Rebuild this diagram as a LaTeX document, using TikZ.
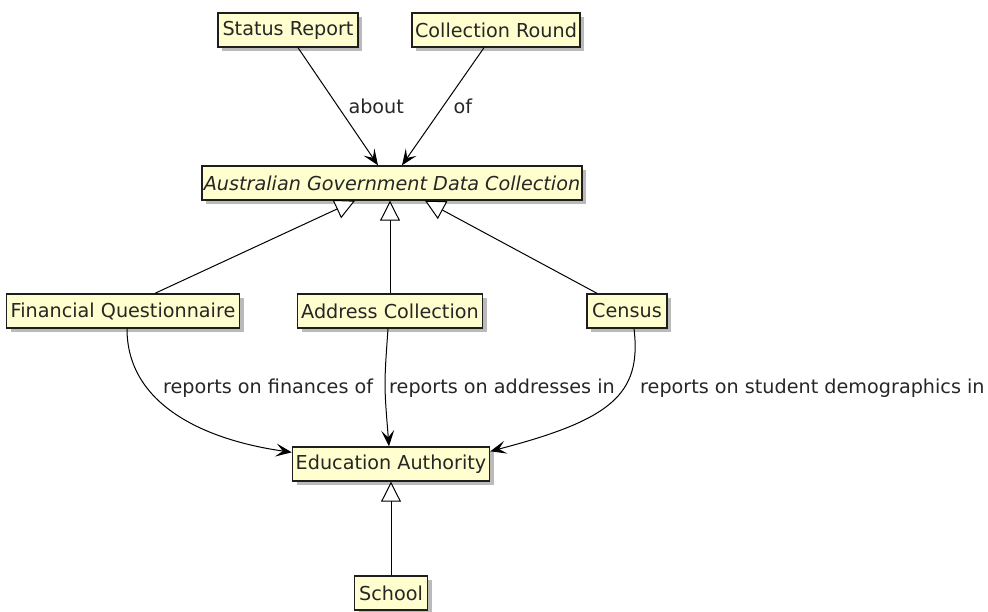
\documentclass[tikz,border=0pt]{standalone}
\usepackage{fontspec}
\setmainfont{DejaVu Sans}
\usepackage{xcolor}
\usetikzlibrary{arrows.meta,positioning,shadows}
\definecolor{clsfill}{HTML}{FEFECE}
\definecolor{clsline}{HTML}{1E1E1E}

\begin{document}
\begin{tikzpicture}[
  x=1pt, y=-1pt,
  font=\fontsize{19.2}{22}\selectfont,
  cls/.style={draw=clsline,line width=1.4pt,fill=clsfill,minimum height=34pt,inner sep=2pt,text=black!85,
    drop shadow={shadow xshift=4pt,shadow yshift=-4pt,fill=black!45,opacity=.6}},
  lbl/.style={anchor=west,inner sep=0pt,text=black!85},
  assoc/.style={line width=1pt,-{Stealth[length=16pt,width=13pt,inset=7pt]}},
  gen/.style={line width=1pt,-{Triangle[open,length=20pt,width=20pt,fill=white]}},
]
\useasboundingbox (0,0) rectangle (988,611);
\node[cls,minimum width=140pt] (status)  at (288,30)  {Status Report};
\node[cls,minimum width=168pt] (round)   at (496,30)  {Collection Round};
\node[cls,minimum width=378pt] (agdc)    at (392,183) {\itshape Australian Government Data Collection};
\node[cls,minimum width=233pt] (finq)    at (123,311) {Financial Questionnaire};
\node[cls,minimum width=185pt] (addr)    at (390,311) {Address Collection};
\node[cls,minimum width=80pt]  (census)  at (627,311) {Census};
\node[cls,minimum width=197pt] (eduauth) at (391,464) {Education Authority};
\node[cls,minimum width=73pt]  (school)  at (391,593) {School};
% associations
\draw[assoc] ([xshift=10pt]status.south) -- node[lbl,pos=.5,xshift=10pt]{about} ([xshift=-14pt]agdc.north);
\draw[assoc] ([xshift=-12pt]round.south) -- node[lbl,pos=.5,xshift=10pt]{of} ([xshift=10pt]agdc.north);
% generalisations
\draw[gen] ([xshift=32pt]finq.north) -- ([xshift=-37pt]agdc.south);
\draw[gen] (addr.north) -- (addr.north |- agdc.south);
\draw[gen] ([xshift=-30pt]census.north) -- ([xshift=33pt]agdc.south);
\draw[gen] (school) -- (eduauth);
% reporting
\draw[assoc] ([xshift=4pt]finq.south) .. controls (127,405) and (205,440) .. ([yshift=-6pt]eduauth.north west);
\draw[assoc] ([xshift=-2pt]addr.south) .. controls (384,385) .. ([xshift=-2pt]eduauth.north);
\draw[assoc] ([xshift=7pt]census.south) .. controls (642,395) and (610,420) .. ([yshift=-5pt]eduauth.north east);
\node[lbl] (lfin)    at (163,388) {reports on finances of};
\node[lbl] (laddr)   at (389,388) {reports on addresses in};
\node[lbl] (lcensus) at (640,388) {reports on student demographics in};
\end{tikzpicture}
\end{document}
